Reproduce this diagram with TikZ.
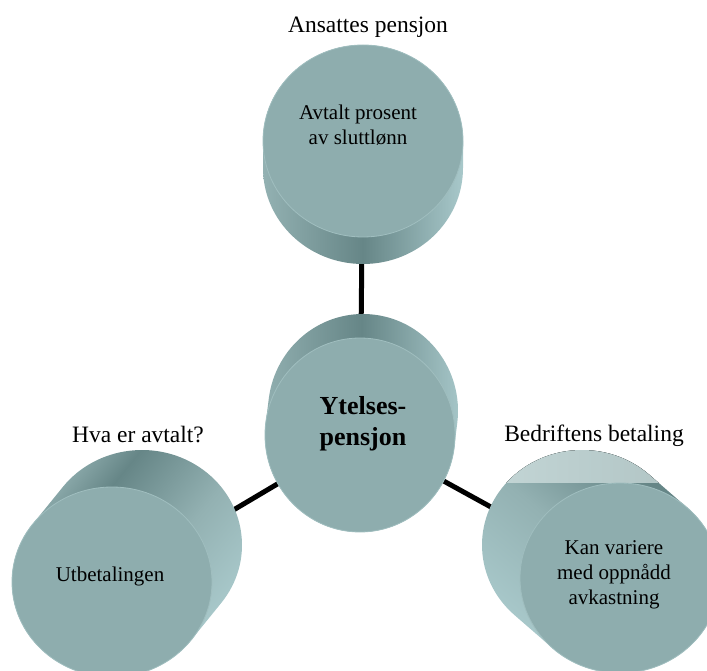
\documentclass[tikz,border=0pt]{standalone}
\usepackage{fontspec}
\setmainfont{Liberation Serif}
\usetikzlibrary{shapes.geometric}

\definecolor{faceC}{HTML}{8EADAE}
\definecolor{rimC}{HTML}{A0BEBF}
\definecolor{sideD}{HTML}{668687}
\definecolor{sideM}{HTML}{93B1B2}
\definecolor{sideL}{HTML}{A8C8CA}
\definecolor{paleL}{HTML}{C8DADA}
\definecolor{paleR}{HTML}{AEC2C2}

% side shadings, varying across the cylinder
\pgfdeclarehorizontalshading{sideTopMid}{100bp}{color(0bp)=(sideM); color(25bp)=(sideM); color(50bp)=(sideD); color(75bp)=(sideL); color(100bp)=(sideL)}
\pgfdeclarehorizontalshading{sideLow}{100bp}{color(0bp)=(sideM); color(28bp)=(sideM); color(38bp)=(sideD); color(55bp)=(sideM); color(70bp)=(sideL); color(100bp)=(sideL)}
\pgfdeclarehorizontalshading{sideRight}{100bp}{color(0bp)=(sideL); color(30bp)=(sideL); color(50bp)=(sideM); color(68bp)=(sideD); color(100bp)=(sideD)}

\tikzset{
  face/.style={ellipse, fill=faceC, draw=rimC, line width=0.8pt, inner sep=0pt},
  link/.style={line width=5pt, black},
  label/.style={font=\fontsize{23.5}{26}\selectfont, inner sep=0pt},
  inner/.style={font=\fontsize{21}{25}\selectfont, align=center, inner sep=0pt},
}

% Side of a cylinder: hull of the front ellipse and the same ellipse moved by (dx,dy).
% #1 cx, #2 cy, #3 rx, #4 ry, #5 dx, #6 dy, #7 shading style, #8 extra paint clipped to the side
\newcommand\cylside[8]{%
  \pgfmathsetmacro\cA{atan2(-(#4)*(#5),(#3)*(#6))}%
  \pgfmathsetmacro\cB{\cA+180}%
  \pgfmathsetmacro\cC{\cA+360}%
  \pgfmathsetmacro\pX{#1+(#3)*cos(\cA)}%
  \pgfmathsetmacro\pY{#2+(#4)*sin(\cA)}%
  \pgfmathsetmacro\nX{-(#5)}%
  \pgfmathsetmacro\nY{-(#6)}%
  \def\hull{(\pX pt,\pY pt) -- ++(#5pt,#6pt)
    arc[start angle=\cA, end angle=\cB, x radius=#3pt, y radius=#4pt]
    -- ++(\nX pt,\nY pt)
    arc[start angle=\cB, end angle=\cC, x radius=#3pt, y radius=#4pt] -- cycle}%
  \path[#7] \hull;
  \begin{scope}
    \clip \hull;
    #8
  \end{scope}
}

\begin{document}
\begin{tikzpicture}[x=1pt, y=1pt]
\useasboundingbox (0,0) rectangle (707,670);
\clip (0,0) rectangle (707,670);

% centres of the front faces
\coordinate (cTop) at (363,529);
\coordinate (cMid) at (360,235);
\coordinate (cLeft) at (112,88);
\coordinate (cRight) at (620,92);

% connectors, behind the cylinders
\draw[link] (cMid) -- (cTop);
\draw[link] (cMid) -- (cLeft);
\draw[link] (cMid) -- (cRight);

% top cylinder
\cylside{363}{529}{100}{96}{0}{-27}{shading=sideTopMid, shading angle=0}{}
\node[face, minimum width=200pt, minimum height=192pt] (fTop) at (cTop) {};

% centre cylinder
\cylside{360}{235}{95}{97}{3}{24}{shading=sideTopMid, shading angle=0}{}
\node[face, minimum width=190pt, minimum height=194pt] (fMid) at (cMid) {};

% lower left cylinder
\cylside{112}{88}{100}{95}{30}{37}{shading=sideLow, shading angle=-39}{}
\node[face, minimum width=200pt, minimum height=190pt] (fLeft) at (cLeft) {};

% lower right cylinder, with its pale upper band
\cylside{620}{92}{100}{95}{-38}{33}{shading=sideRight, shading angle=50}
  {\fill[left color=paleL, right color=paleR] (440,187) rectangle (707,240);}
\node[face, minimum width=200pt, minimum height=190pt] (fRight) at (cRight) {};

% texts
\node[label] (tTop) at (368,643) {Ansattes pensjon};
\node[label] (tLeft) at (138,235) {Hva er avtalt?};
\node[label] (tRight) at (594,234) {Bedriftens betaling};

\node[inner] (iTop) at (358,545) {Avtalt prosent\\av sluttlønn};
\node[inner, font=\fontsize{26}{31}\selectfont\bfseries] (iMid) at (363,246) {Ytelses-\\pensjon};
\node[inner] (iLeft) at (110,94) {Utbetalingen};
\node[inner] (iRight) at (614,95) {Kan variere\\med oppnådd\\avkastning};
\end{tikzpicture}
\end{document}
